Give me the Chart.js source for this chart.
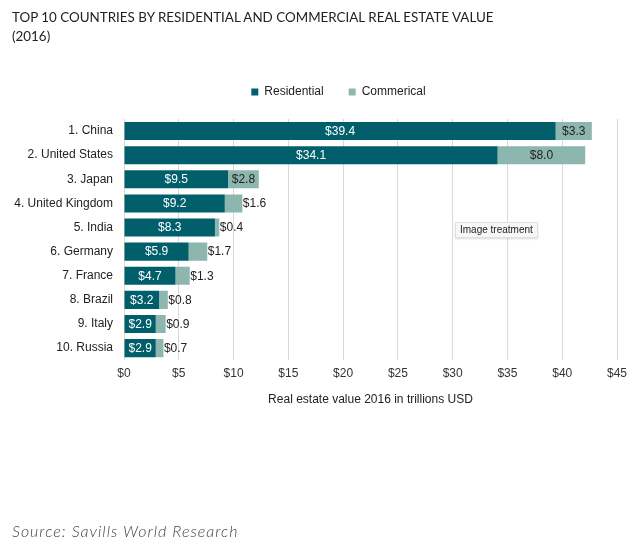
<!DOCTYPE html>
<html>
<head>
<meta charset="utf-8">
<script src="https://cdn.jsdelivr.net/npm/chart.js@4/dist/chart.umd.min.js"></script>
<style>
  html, body { margin: 0; padding: 0; background: #fff; }
  #wrap { position: relative; width: 640px; height: 545px; overflow: hidden; }
  #title { position: absolute; left: 12px; top: 8px; font-family: Lato, sans-serif; font-size: 13.4px; line-height: 19px; color: #222; letter-spacing: 0px; }
  #source { position: absolute; left: 12px; top: 521px; font-family: Lato, sans-serif; font-style: italic; font-weight: 300; font-size: 16px; color: #444; letter-spacing: 1px; }
  #tip { position: absolute; left: 455px; top: 222px; padding: 0px 4px; font-family: "Liberation Sans", Arial, sans-serif; font-size: 10px; line-height: 14px; color: #222; background: #f7f7f7; border: 1px solid #e0e0e0; box-shadow: 0 1px 2px rgba(0,0,0,0.15); }
  canvas { position: absolute; left: 0; top: 0; }
</style>
</head>
<body>
<div id="wrap">
  <canvas id="c" width="640" height="545"></canvas>
  <div id="title">TOP 10 COUNTRIES BY RESIDENTIAL AND COMMERCIAL REAL ESTATE VALUE<br>(2016)</div>
  <div id="tip">Image treatment</div>
  <div id="source">Source: Savills World Research</div>
</div>
<script>
const categories = ["1. China", "2. United States", "3. Japan", "4. United Kingdom", "5. India", "6. Germany", "7. France", "8. Brazil", "9. Italy", "10. Russia"];
const residential = [39.4, 34.1, 9.5, 9.2, 8.3, 5.9, 4.7, 3.2, 2.9, 2.9];
const commercial = [3.3, 8.0, 2.8, 1.6, 0.4, 1.7, 1.3, 0.8, 0.9, 0.7];
const xTicks = [0, 5, 10, 15, 20, 25, 30, 35, 40, 45];
const seriesNames = ["Residential", "Commerical"];
const colors = ["#005f6b", "#8db6ae"];

const labelFont = '12px "Liberation Sans", Arial, sans-serif';

const barLabels = {
  id: 'barLabels',
  afterDatasetsDraw(chart) {
    const ctx = chart.ctx;
    ctx.save();
    ctx.font = labelFont;
    ctx.textBaseline = 'middle';
    chart.data.datasets.forEach((ds, di) => {
      const meta = chart.getDatasetMeta(di);
      meta.data.forEach((bar, i) => {
        const v = ds.data[i];
        const txt = '$' + v.toFixed(1);
        const left = Math.min(bar.base, bar.x);
        const right = Math.max(bar.base, bar.x);
        const w = right - left;
        const tw = ctx.measureText(txt).width;
        if (di === 0) {
          ctx.fillStyle = '#ffffff';
          ctx.textAlign = 'center';
          ctx.fillText(txt, (left + right) / 2, bar.y + 0.5);
        } else {
          ctx.fillStyle = '#222222';
          if (tw + 4 <= w) {
            ctx.textAlign = 'center';
            ctx.fillText(txt, (left + right) / 2, bar.y + 0.5);
          } else {
            ctx.textAlign = 'left';
            ctx.fillText(txt, right + 0.5, bar.y + 0.5);
          }
        }
      });
    });
    ctx.restore();
  }
};

const legendShift = {
  id: 'legendShift',
  afterLayout(chart) {
    const lg = chart.legend;
    if (!lg) return;
    lg.left += 30; lg.right += 30;
    lg.top -= 11; lg.bottom -= 11;
  }
};

new Chart(document.getElementById('c'), {
  type: 'bar',
  data: {
    labels: categories,
    datasets: [
      { label: seriesNames[0], data: residential, backgroundColor: colors[0] },
      { label: seriesNames[1], data: commercial, backgroundColor: colors[1] }
    ]
  },
  options: {
    indexAxis: 'y',
    responsive: false,
    animation: false,
    devicePixelRatio: 1,
    layout: { padding: { left: 0, right: 23, top: 72, bottom: 138 } },
    datasets: { bar: { categoryPercentage: 1, barPercentage: 0.75 } },
    plugins: {
      tooltip: { enabled: false },
      legend: {
        position: 'top',
        align: 'center',
        labels: {
          boxWidth: 7, boxHeight: 7, padding: 25,
          color: '#222',
          font: { family: '"Liberation Sans", Arial, sans-serif', size: 12 }
        }
      }
    },
    scales: {
      x: {
        stacked: true,
        min: 0, max: 45,
        afterBuildTicks(scale) { scale.ticks = xTicks.map(v => ({ value: v })); },
        ticks: {
          callback: v => '$' + v,
          color: '#333',
          padding: 6,
          font: { family: '"Liberation Sans", Arial, sans-serif', size: 12 }
        },
        grid: { color: '#d9d9d9', drawTicks: false, lineWidth: 1 },
        border: { display: false },
        title: {
          display: true,
          text: 'Real estate value 2016 in trillions USD',
          color: '#222',
          padding: { top: 6, bottom: 0 },
          font: { family: '"Liberation Sans", Arial, sans-serif', size: 12 }
        }
      },
      y: {
        stacked: true,
        afterFit(scale) { scale.width = 124; },
        ticks: {
          color: '#222',
          padding: 11,
          font: { family: '"Liberation Sans", Arial, sans-serif', size: 12 }
        },
        grid: { display: false, drawTicks: false },
        border: { display: false }
      }
    }
  },
  plugins: [barLabels, legendShift]
});
</script>
</body>
</html>
